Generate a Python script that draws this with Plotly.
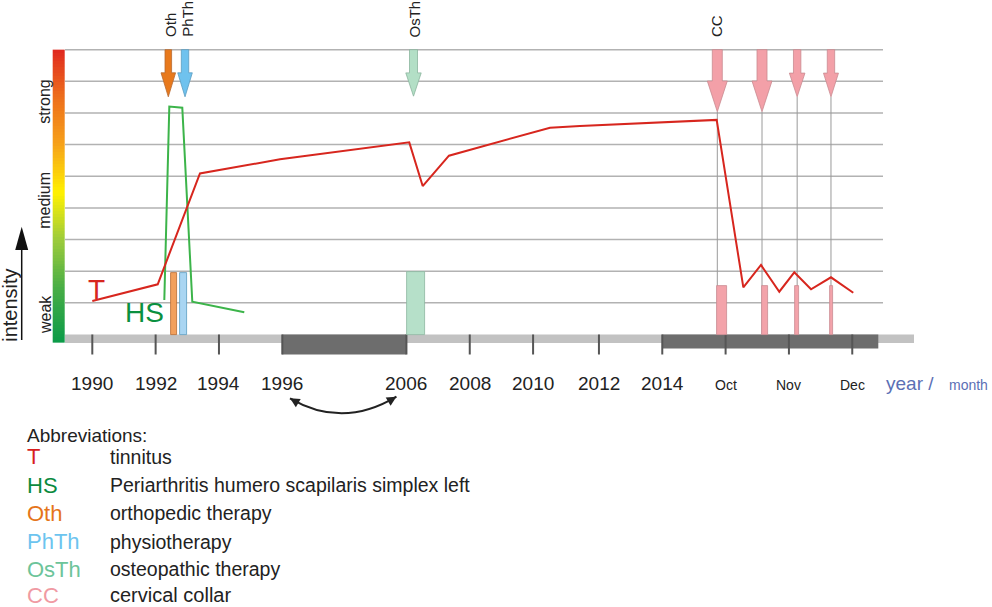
import numpy as np
import plotly.graph_objects as go

# ---------------- data (axis units: one unit per tick, intensity 0..9) -------------
tick_pos = [0, 1, 2, 3, 4.96, 5.96, 6.96, 8, 9, 10, 11, 12]
tick_labels = ["1990", "1992", "1994", "1996", "2006", "2008", "2010", "2012", "2014",
               "Oct", "Nov", "Dec"]
grid_levels = [1, 2, 3, 4, 5, 6, 7, 8, 9]

# tinnitus (T) intensity course
t_x = [0, 1.033, 1.70, 2.964, 5.005, 5.217, 5.632, 7.227, 7.70, 9.859,
       10.28, 10.559, 10.848, 11.085, 11.349, 11.664, 12.016]
t_y = [1.06, 1.586, 5.09, 5.535, 6.07, 4.69, 5.65, 6.535, 6.59, 6.78,
       1.49, 2.196, 1.352, 1.965, 1.428, 1.807, 1.32]

# periarthritis humero scapularis (HS) intensity course
hs_x = [1.137, 1.216, 1.421, 1.579, 2.40]
hs_y = [1.09, 7.20, 7.166, 1.036, 0.70]

# therapies (bars + arrows)
therapy = ["Oth", "PhTh", "OsTh", "CC", "CC", "CC", "CC"]
bar_x = [1.288, 1.438, 5.109, 9.948, 10.624, 11.132, 11.677]
bar_w = [0.09, 0.106, 0.289, 0.158, 0.10, 0.063, 0.047]
bar_h = [1.95, 1.95, 1.965, 1.53, 1.53, 1.53, 1.53]
arrow_x = [1.20, 1.464, 5.072, 9.869, 10.575, 11.13, 11.664]
arrow_tip = [7.51, 7.51, 7.53, 7.04, 7.04, 7.51, 7.51]

# legend
abbr = ["T", "HS", "Oth", "PhTh", "OsTh", "CC"]
abbr_desc = ["tinnitus", "Periarthritis humero scapilaris simplex left",
             "orthopedic therapy", "physiotherapy", "osteopathic therapy", "cervical collar"]

# ---------------- style ----------------
W, H = 992, 607
SX, SY = 63.33, 31.65            # px per axis unit
X0, Y0 = 92.3, 334.5             # px position of (0, 0)
XR = [-X0 / SX, (W - X0) / SX]
YR = [(Y0 - H) / SY, Y0 / SY]

def pu(px):  # pixel sizes -> axis units (x)
    return px / SX

def pv(px):
    return px / SY

FONT = "Liberation Sans, Arial, sans-serif"
RED = "#d7261e"
GREEN_LINE = "#3cb44a"
therapy_fill = {"Oth": "#e8791c", "PhTh": "#6fc2ee", "OsTh": "#b3dfc6", "CC": "#f3a0a8"}
therapy_edge = {"Oth": "#b86a30", "PhTh": "#5a9cc0", "OsTh": "#8cb59e", "CC": "#c98a90"}
bar_fill = {"Oth": "#f2a05c", "PhTh": "#a9d5f2", "OsTh": "#b6e0c9", "CC": "#f3a3aa"}
abbr_color = {"T": "#d81e1e", "HS": "#0b8a3e", "Oth": "#e5751a", "PhTh": "#6cc4ef",
              "OsTh": "#6cc49a", "CC": "#f09aa3"}
shaft_half = [3.3, 3.7, 4.0, 5.0, 5.0, 3.7, 3.7]
head_half = [7.3, 7.3, 7.7, 10.0, 10.0, 7.8, 7.5]
head_len = [24, 24, 23.3, 30.7, 30.7, 23.7, 23.7]

fig = go.Figure()
shapes = []
ann = []

# colour gradient bar (intensity scale)
edges = np.linspace(-0.26, 9, 101)
mids = (edges[:-1] + edges[1:]) / 2
fig.add_trace(go.Heatmap(
    x=[-pu(X0 - 52.7), -pu(X0 - 65)], y=edges, z=[[m] for m in mids],
    zmin=-0.26, zmax=9, showscale=False, hoverinfo="skip",
    colorscale=[[0, "#0a9a48"], [0.18, "#45ad46"], [0.35, "#9ccb3b"], [0.51, "#fff100"],
                [0.68, "#f6a01a"], [0.85, "#ec6a1c"], [1, "#e0281f"]]))

# grid lines
gx0, gx1 = -pu(X0 - 65), pu(883 - X0)
for g in grid_levels:
    shapes.append(dict(type="line", xref="x", yref="y", x0=gx0, x1=gx1, y0=g, y1=g,
                       line=dict(color="#b2b2b2", width=1.5), layer="below"))

# baseline time bar
shapes.append(dict(type="rect", xref="x", yref="y", x0=gx0, x1=pu(914 - X0),
                   y0=0, y1=-pv(8.6), fillcolor="#c2c2c2", line_width=0, layer="below"))
shapes.append(dict(type="rect", xref="x", yref="y", x0=tick_pos[3], x1=tick_pos[4],
                   y0=0, y1=-pv(20), fillcolor="#6d6d6d", line_width=0, layer="below"))
shapes.append(dict(type="rect", xref="x", yref="y", x0=tick_pos[8], x1=pu(878.3 - X0),
                   y0=0, y1=-pv(14), fillcolor="#6d6d6d", line_width=0, layer="below"))
for tp in tick_pos:
    shapes.append(dict(type="line", xref="x", yref="y", x0=tp, x1=tp, y0=0, y1=-pv(20),
                       line=dict(color="#555555", width=2), layer="below"))

# thin guide lines below CC arrows
for name, ax_, tip in zip(therapy, arrow_x, arrow_tip):
    if name == "CC":
        shapes.append(dict(type="line", xref="x", yref="y", x0=ax_, x1=ax_, y0=tip, y1=0,
                           line=dict(color="#9a9a9a", width=1), layer="below"))

# therapy bars
for name in ["Oth", "PhTh", "OsTh", "CC"]:
    idx = [i for i, n in enumerate(therapy) if n == name]
    fig.add_trace(go.Bar(x=[bar_x[i] for i in idx], y=[bar_h[i] for i in idx],
                         width=[bar_w[i] for i in idx], base=0,
                         marker=dict(color=bar_fill[name],
                                     line=dict(color=therapy_edge[name], width=0.8)),
                         hoverinfo="skip", showlegend=False))

# intensity lines
fig.add_trace(go.Scatter(x=hs_x, y=hs_y, mode="lines",
                         line=dict(color=GREEN_LINE, width=2), hoverinfo="skip"))
fig.add_trace(go.Scatter(x=t_x, y=t_y, mode="lines",
                         line=dict(color=RED, width=2), hoverinfo="skip"))

# therapy arrows
for i, name in enumerate(therapy):
    x = arrow_x[i]
    sh, hh = pu(shaft_half[i]), pu(head_half[i])
    tip = arrow_tip[i]
    hs = tip + pv(head_len[i])
    path = (f"M {x-sh},9 L {x+sh},9 L {x+sh},{hs} L {x+hh},{hs} L {x},{tip} "
            f"L {x-hh},{hs} L {x-sh},{hs} Z")
    shapes.append(dict(type="path", xref="x", yref="y", path=path,
                       fillcolor=therapy_fill[name],
                       line=dict(color=therapy_edge[name], width=0.8), layer="above"))

# therapy labels (rotated)
lab_pos = {"Oth": 1.226, "PhTh": 1.49, "OsTh": 5.095, "CC": 9.848}
for name, xp in lab_pos.items():
    ann.append(dict(x=xp, y=pv(Y0 - 39), xref="x", yref="y", text=name, textangle=-90,
                    showarrow=False, xanchor="center", yanchor="bottom",
                    font=dict(family=FONT, size=15, color="#222222")))

# series labels
ann.append(dict(x=0.07, y=1.42, xref="x", yref="y", text="T", showarrow=False,
                font=dict(family=FONT, size=28, color=RED)))
ann.append(dict(x=0.832, y=0.695, xref="x", yref="y", text="HS", showarrow=False,
                font=dict(family=FONT, size=28, color="#0a9040")))

# intensity scale labels
for txt, yv in [("strong", 7.355), ("medium", 4.224), ("weak", 0.616)]:
    ann.append(dict(x=-pu(X0 - 45), y=yv, xref="x", yref="y", text=txt, textangle=-90,
                    showarrow=False, font=dict(family=FONT, size=16, color="#222222")))
ann.append(dict(x=-pu(X0 - 10), y=0.907, xref="x", yref="y", text="intensity",
                textangle=-90, showarrow=False,
                font=dict(family=FONT, size=20, color="#222222")))
ix = -pu(X0 - 21.7)
shapes.append(dict(type="line", xref="x", yref="y", x0=ix, x1=ix, y0=-pv(5.5), y1=pv(Y0 - 248),
                   line=dict(color="#111111", width=1.5)))
shapes.append(dict(type="path", xref="x", yref="y",
                   path=(f"M {ix-pu(6.5)},{pv(Y0-250)} L {ix+pu(6.5)},{pv(Y0-250)} "
                         f"L {ix},{pv(Y0-226.7)} Z"),
                   fillcolor="#111111", line_width=0))

# tick labels
for tp, tl in zip(tick_pos, tick_labels):
    month = not tl.isdigit()
    ann.append(dict(x=tp, y=pv(Y0 - (385 if month else 383)), xref="x", yref="y", text=tl,
                    showarrow=False, xanchor="center", yanchor="middle",
                    font=dict(family=FONT, size=14 if month else 19, color="#222222")))
ann.append(dict(x=pu(884 - X0), y=pv(Y0 - 383), xref="x", yref="y", text="year /",
                showarrow=False, xanchor="left",
                font=dict(family=FONT, size=19, color="#5b6fb5")))
ann.append(dict(x=pu(946.7 - X0), y=pv(Y0 - 385), xref="x", yref="y", text="month",
                showarrow=False, xanchor="left",
                font=dict(family=FONT, size=14, color="#5b6fb5")))

# curved "time skip" arrow between 1996 and 2006
p0 = (tick_pos[3] + pu(7.7), pv(Y0 - 398.3))
p2 = (tick_pos[4] - pu(10), pv(Y0 - 396.7))
c = ((p0[0] + p2[0]) / 2 - pu(0.5), pv(Y0 - 429.1))
shapes.append(dict(type="path", xref="x", yref="y",
                   path=f"M {p0[0]},{p0[1]} Q {c[0]},{c[1]} {p2[0]},{p2[1]}",
                   line=dict(color="#222222", width=2)))
for p, (dx, dy) in [(p0, (8.6, 5.05)), (p2, (-8.6, 5.1))]:
    ann.append(dict(x=p[0], y=p[1], xref="x", yref="y", ax=dx, ay=dy, text="",
                    showarrow=True, arrowhead=2, arrowsize=1.2, arrowwidth=1.6,
                    arrowcolor="#222222", standoff=0))

# abbreviations legend
ann.append(dict(x=25 / W, y=1 - 435 / H, xref="paper", yref="paper", text="Abbreviations:",
                showarrow=False, xanchor="left", yanchor="middle",
                font=dict(family=FONT, size=19, color="#222222")))
row_y = [456.7, 485, 513.3, 541.7, 569.3, 595]
for a, d, ry in zip(abbr, abbr_desc, row_y):
    ann.append(dict(x=25 / W, y=1 - ry / H, xref="paper", yref="paper", text=a,
                    showarrow=False, xanchor="left", yanchor="middle",
                    font=dict(family=FONT, size=22, color=abbr_color[a])))
    ann.append(dict(x=108 / W, y=1 - ry / H, xref="paper", yref="paper", text=d,
                    showarrow=False, xanchor="left", yanchor="middle",
                    font=dict(family=FONT, size=20 if a == "CC" else 19.5, color="#222222")))

fig.update_layout(
    width=W, height=H, autosize=False, margin=dict(l=0, r=0, t=0, b=0, pad=0),
    paper_bgcolor="white", plot_bgcolor="white", showlegend=False,
    xaxis=dict(range=XR, visible=False, fixedrange=True),
    yaxis=dict(range=YR, visible=False, fixedrange=True),
    shapes=shapes, annotations=ann, bargap=0,
)
fig.write_html("out.html", config={"displayModeBar": False},
               post_script="document.body.style.margin='0';document.body.style.overflow='hidden';")
